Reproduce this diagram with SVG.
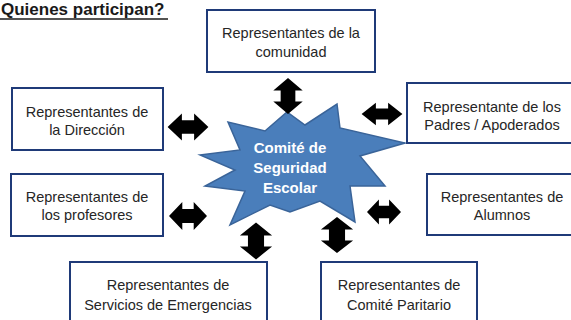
<svg xmlns="http://www.w3.org/2000/svg" width="571" height="320" viewBox="0 0 571 320">
<style>
.box{fill:#ffffff;stroke:#1f3a78;stroke-width:2}
.lbl{font-family:"Liberation Sans",Arial,sans-serif;font-size:14.5px;fill:#262626;text-anchor:middle}
.star-t{font-family:"Liberation Sans",Arial,sans-serif;font-size:15px;font-weight:bold;fill:#ffffff;text-anchor:middle}
.title{font-family:"Liberation Sans",Arial,sans-serif;font-size:17px;font-weight:bold;fill:#1a1a1a}
.arr{fill:#000000}
</style>
<defs>
<path id="dbl" d="M-20,0 L-6,-14 L-6,-7 L6,-7 L6,-14 L20,0 L6,14 L6,7 L-6,7 L-6,14 Z"/>
</defs>
<rect width="571" height="320" fill="#ffffff"/>
<g id="title">
<text class="title" x="1" y="15">Quienes participan?</text>
<line x1="0" y1="19" x2="168" y2="19" stroke="#1a1a1a" stroke-width="1.6"/>
</g>
<g id="center">
<polygon points="200,155 240,150 228,122 265,131 287,112 305,125 337,104 340,128 405,143 360,156 385,186 350,186 355,222 320,201 290,212 270,205 230,225 245,191 205,186 235,170" fill="#4a7ebb" stroke="#3a6499" stroke-width="1.5"/>
<text class="star-t" x="290" y="153">Comité de</text>
<text class="star-t" x="290" y="173">Seguridad</text>
<text class="star-t" x="290" y="193">Escolar</text>
</g>
<g id="n-comunidad">
<rect class="box" x="207" y="10" width="168" height="62"/>
<text class="lbl" x="291" y="38">Representantes de la</text>
<text class="lbl" x="291" y="57">comunidad</text>
</g>
<g id="n-direccion">
<rect class="box" x="12" y="88" width="151" height="62"/>
<text class="lbl" x="87" y="117">Representantes de</text>
<text class="lbl" x="87" y="135">la Dirección</text>
</g>
<g id="n-padres">
<rect class="box" x="407" y="83" width="168" height="60"/>
<text class="lbl" x="492" y="112">Representante de los</text>
<text class="lbl" x="492" y="130">Padres / Apoderados</text>
</g>
<g id="n-profesores">
<rect class="box" x="11" y="174" width="152" height="62"/>
<text class="lbl" x="87" y="202">Representantes de</text>
<text class="lbl" x="87" y="220">los profesores</text>
</g>
<g id="n-alumnos">
<rect class="box" x="427" y="174" width="148" height="61"/>
<text class="lbl" x="502" y="202">Representantes de</text>
<text class="lbl" x="502" y="220">Alumnos</text>
</g>
<g id="n-emergencias">
<rect class="box" x="70" y="262" width="197" height="62"/>
<text class="lbl" x="168" y="290">Representantes de</text>
<text class="lbl" x="168" y="310">Servicios de Emergencias</text>
</g>
<g id="n-paritario">
<rect class="box" x="321" y="262" width="156" height="62"/>
<text class="lbl" x="399" y="290">Representantes de</text>
<text class="lbl" x="399" y="310">Comité Paritario</text>
</g>
<g id="connectors" class="arr">
<use href="#dbl" transform="translate(288,96) rotate(90) scale(0.9,1.05)"/>
<use href="#dbl" transform="translate(188,127) scale(1.02,0.97)"/>
<use href="#dbl" transform="translate(382,114) scale(1.02,0.8)"/>
<use href="#dbl" transform="translate(188,216) scale(0.95,1)"/>
<use href="#dbl" transform="translate(384,212) scale(0.85,0.9)"/>
<use href="#dbl" transform="translate(256,241) rotate(90) scale(0.92,1.15)"/>
<use href="#dbl" transform="translate(337,235) rotate(90) scale(0.9,1.15)"/>
</g>
</svg>
